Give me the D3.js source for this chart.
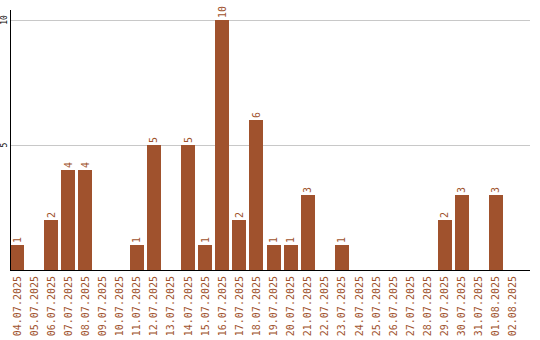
<!DOCTYPE html>
<html>
<head>
<meta charset="utf-8">
<script src="https://cdn.jsdelivr.net/npm/d3@7"></script>
<style>
  body { margin: 0; background: #fff; }
</style>
</head>
<body>
<div id="chart"></div>
<script>
// Data
const days = [
  "04.07.2025", "05.07.2025", "06.07.2025", "07.07.2025", "08.07.2025",
  "09.07.2025", "10.07.2025", "11.07.2025", "12.07.2025", "13.07.2025",
  "14.07.2025", "15.07.2025", "16.07.2025", "17.07.2025", "18.07.2025",
  "19.07.2025", "20.07.2025", "21.07.2025", "22.07.2025", "23.07.2025",
  "24.07.2025", "25.07.2025", "26.07.2025", "27.07.2025", "28.07.2025",
  "29.07.2025", "30.07.2025", "31.07.2025", "01.08.2025", "02.08.2025"
];
const counts = [1, 0, 2, 4, 4, 0, 0, 1, 5, 0, 5, 1, 10, 2, 6, 1, 1, 3, 0, 1, 0, 0, 0, 0, 0, 2, 3, 0, 3, 0];
const yTicks = [5, 10];

const width = 540;
const height = 340;
const margin = { top: 10, right: 10, bottom: 70, left: 10 };
const barColor = "#a0522d";

const svg = d3.select("#chart")
  .append("svg")
  .attr("width", width)
  .attr("height", height);

// bands stop a bit short of the axis end
const x = d3.scaleBand()
  .domain(days)
  .range([margin.left, 520])
  .paddingInner(0.176)
  .paddingOuter(0);

const y = d3.scaleLinear()
  .domain([0, 10.4])
  .range([height - margin.bottom, margin.top]);

// gridlines
svg.append("g")
  .selectAll("line")
  .data(yTicks)
  .enter()
  .append("line")
  .attr("x1", margin.left)
  .attr("x2", width - margin.right)
  .attr("y1", (d) => Math.round(y(d)) + 0.5)
  .attr("y2", (d) => Math.round(y(d)) + 0.5)
  .attr("stroke", "#c8c8c8");

// y tick labels (rotated)
svg.append("g")
  .selectAll("text")
  .data(yTicks)
  .enter()
  .append("text")
  .attr("transform", (d) => `translate(7,${y(d)}) rotate(-90)`)
  .attr("text-anchor", "middle")
  .style("font", "8px 'DejaVu Sans Mono', monospace")
  .attr("fill", "#000")
  .text((d) => d);

const rows = days.map((day, i) => ({ day, value: counts[i] })).filter((d) => d.value > 0);

const bars = svg.append("g")
  .selectAll("g")
  .data(rows)
  .enter()
  .append("g");

bars.append("rect")
  .attr("x", (d) => Math.round(x(d.day)))
  .attr("y", (d) => Math.round(y(d.value)))
  .attr("width", Math.round(x.bandwidth()))
  .attr("height", (d) => Math.round(y(0)) - Math.round(y(d.value)))
  .attr("fill", barColor);

// value labels
bars.append("text")
  .attr("transform", (d) => `translate(${x(d.day) + x.bandwidth() / 2 + 3.5},${y(d.value) - 2}) rotate(-90)`)
  .attr("text-anchor", "start")
  .style("font", "10px 'DejaVu Sans Mono', monospace")
  .attr("fill", barColor)
  .text((d) => d.value);

// y axis line
svg.append("line")
  .attr("x1", margin.left + 0.5)
  .attr("x2", margin.left + 0.5)
  .attr("y1", margin.top)
  .attr("y2", y(0))
  .attr("stroke", "#000");

// x axis line
svg.append("line")
  .attr("x1", margin.left)
  .attr("x2", width - margin.right)
  .attr("y1", Math.round(y(0)) + 0.5)
  .attr("y2", Math.round(y(0)) + 0.5)
  .attr("stroke", "#000");

// x tick labels (rotated)
svg.append("g")
  .selectAll("text")
  .data(days)
  .enter()
  .append("text")
  .attr("transform", (d) => `translate(${x(d) + x.bandwidth() / 2 + 3.5},${y(0) + 6}) rotate(-90)`)
  .attr("text-anchor", "end")
  .style("font", "10px 'DejaVu Sans Mono', monospace")
  .attr("fill", barColor)
  .text((d) => d);
</script>
</body>
</html>
